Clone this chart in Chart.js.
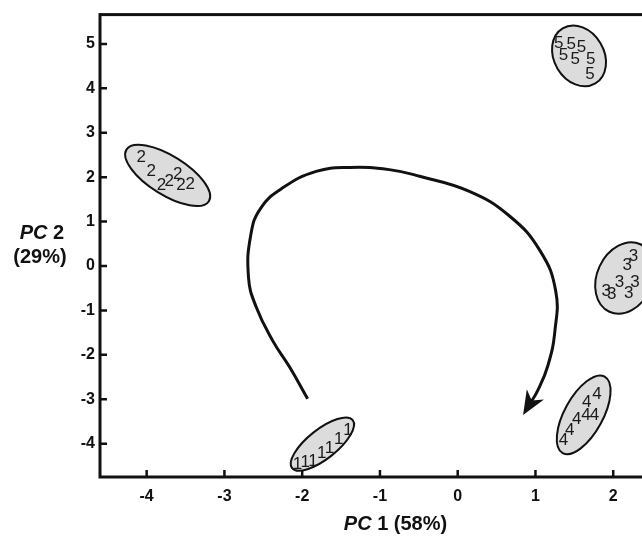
<!DOCTYPE html>
<html><head><meta charset="utf-8">
<script src="https://cdn.jsdelivr.net/npm/chart.js@4/dist/chart.umd.min.js"></script>
<style>
html,body{margin:0;padding:0;overflow:hidden;background:#fff;width:642px;height:536px}
#wrap{width:700px;height:536px}
</style></head>
<body><div id="wrap"><canvas id="c" width="700" height="536"></canvas></div>
<script>
// ---- data ----
const xTicks = [-4, -3, -2, -1, 0, 1, 2];
const yTicks = [-4, -3, -2, -1, 0, 1, 2, 3, 4, 5];
const groupLabels = ['1', '2', '3', '4', '5'];
const group1X = [-2.06, -1.96, -1.86, -1.75, -1.65, -1.53, -1.41];
const group1Y = [-4.46, -4.43, -4.39, -4.22, -4.11, -3.91, -3.70];
const group2X = [-4.07, -3.94, -3.81, -3.71, -3.60, -3.56, -3.44];
const group2Y = [2.44, 2.13, 1.82, 1.91, 2.07, 1.82, 1.83];
const group3X = [2.26, 2.18, 2.08, 2.28, 1.91, 1.98, 2.20];
const group3Y = [0.22, 0.02, -0.37, -0.37, -0.58, -0.63, -0.61];
const group4X = [1.79, 1.66, 1.53, 1.65, 1.76, 1.44, 1.36];
const group4Y = [-2.89, -3.07, -3.46, -3.36, -3.35, -3.70, -3.92];
const group5X = [1.30, 1.46, 1.59, 1.36, 1.51, 1.71, 1.70];
const group5Y = [5.01, 4.98, 4.93, 4.75, 4.66, 4.65, 4.31];
// ellipse around each group: centre, end of major axis (data units), minor/major ratio
const ellipseCX = [-1.74, -3.73, 2.15, 1.62, 1.56];
const ellipseCY = [-4.01, 2.04, -0.27, -3.35, 4.73];
const ellipseEndX = [-1.35, -3.20, 2.35, 1.89, 1.77];
const ellipseEndY = [-3.47, 1.46, 0.49, -2.49, 4.11];
const ellipseRatio = [0.38, 0.40, 0.75, 0.44, 0.78];
// trajectory arrow
const pathX = [-1.93, -2.16, -2.38, -2.59, -2.69, -2.66, -2.53, -2.25, -1.82, -1.39, -0.88, -0.49, 0.15, 0.67, 1.06, 1.26, 1.25, 1.16, 1.03, 0.90];
const pathY = [-2.99, -2.28, -1.68, -0.93, -0.26, 0.71, 1.31, 1.76, 2.13, 2.22, 2.17, 2.02, 1.68, 1.12, 0.34, -0.56, -1.46, -2.24, -2.80, -3.18];

const groupsX = [group1X, group2X, group3X, group4X, group5X];
const groupsY = [group1Y, group2Y, group3Y, group4Y, group5Y];

const FONT = '"Liberation Sans", Arial, sans-serif';

const datasets = groupsX.map((xs, g) => ({
  label: groupLabels[g],
  data: xs.map((x, i) => ({x, y: groupsY[g][i]})),
  pointRadius: 0, showLine: false, isGroup: true
}));
datasets.push({
  label: 'path',
  data: pathX.map((x, i) => ({x, y: pathY[i]})),
  showLine: true, tension: 0.45, borderColor: '#111', borderWidth: 3,
  pointRadius: 0, fill: false, isPath: true
});

const deco = {
  id: 'deco',
  beforeDatasetsDraw(chart) {
    const ctx = chart.ctx, xs = chart.scales.x, ys = chart.scales.y;
    ctx.save();
    for (let i = 0; i < ellipseCX.length; i++) {
      const cx = xs.getPixelForValue(ellipseCX[i]), cy = ys.getPixelForValue(ellipseCY[i]);
      const ex = xs.getPixelForValue(ellipseEndX[i]), ey = ys.getPixelForValue(ellipseEndY[i]);
      const a = Math.hypot(ex - cx, ey - cy), ang = Math.atan2(ey - cy, ex - cx);
      ctx.beginPath();
      ctx.ellipse(cx, cy, a, a * ellipseRatio[i], ang, 0, Math.PI * 2);
      ctx.fillStyle = '#dcdcdc';
      ctx.fill();
      ctx.lineWidth = 2;
      ctx.strokeStyle = '#111';
      ctx.stroke();
    }
    ctx.restore();
  },
  afterDatasetsDraw(chart) {
    const ctx = chart.ctx;
    ctx.save();
    ctx.font = '17px ' + FONT;
    ctx.fillStyle = '#1a1a1a';
    ctx.textAlign = 'center';
    ctx.textBaseline = 'middle';
    chart.data.datasets.forEach((ds, di) => {
      if (!ds.isGroup) return;
      chart.getDatasetMeta(di).data.forEach(pt => ctx.fillText(ds.label, pt.x, pt.y));
    });
    // arrow head
    chart.data.datasets.forEach((ds, di) => {
      if (!ds.isPath) return;
      const pts = chart.getDatasetMeta(di).data;
      const p = pts[pts.length - 1];
      let bx = p.cp1x, by = p.cp1y;
      if (bx === undefined || (bx === p.x && by === p.y)) { bx = pts[pts.length - 2].x; by = pts[pts.length - 2].y; }
      const ang = Math.atan2(p.y - by, p.x - bx);
      const L = 24, W = 10;
      const tx = p.x + Math.cos(ang) * 9, ty = p.y + Math.sin(ang) * 9;
      const ux = Math.cos(ang), uy = Math.sin(ang), nx = -uy, ny = ux;
      ctx.beginPath();
      ctx.moveTo(tx, ty);
      ctx.lineTo(tx - ux * L + nx * W, ty - uy * L + ny * W);
      ctx.lineTo(tx - ux * L * 0.7, ty - uy * L * 0.7);
      ctx.lineTo(tx - ux * L - nx * W, ty - uy * L - ny * W);
      ctx.closePath();
      ctx.fillStyle = '#111';
      ctx.fill();
    });
    ctx.restore();
  },
  afterDraw(chart) {
    const ctx = chart.ctx, ca = chart.chartArea, xs = chart.scales.x, ys = chart.scales.y;
    ctx.save();
    ctx.strokeStyle = '#111';
    ctx.lineWidth = 3;
    ctx.strokeRect(ca.left, ca.top, ca.right - ca.left, ca.bottom - ca.top);
    ctx.lineWidth = 2.5;
    ctx.beginPath();
    xTicks.forEach(v => { const px = xs.getPixelForValue(v); ctx.moveTo(px, ca.bottom); ctx.lineTo(px, ca.bottom - 7); });
    yTicks.forEach(v => { const py = ys.getPixelForValue(v); ctx.moveTo(ca.left, py); ctx.lineTo(ca.left + 7, py); });
    ctx.stroke();
    // axis titles with italic "PC"
    ctx.fillStyle = '#111';
    ctx.textBaseline = 'middle';
    ctx.textAlign = 'left';
    function drawMixed(parts, cx, cy) {
      let w = 0;
      parts.forEach(p => { ctx.font = p[1] + ' 20px ' + FONT; w += ctx.measureText(p[0]).width; });
      let x = cx - w / 2;
      parts.forEach(p => { ctx.font = p[1] + ' 20px ' + FONT; ctx.fillText(p[0], x, cy); x += ctx.measureText(p[0]).width; });
    }
    drawMixed([['PC', 'italic bold'], [' 1 (58%)', 'bold']], (ca.left + ca.right) / 2, 524);
    drawMixed([['PC', 'italic bold'], [' 2', 'bold']], 42, 233);
    drawMixed([['(29%)', 'bold']], 40, 257);
    ctx.restore();
  }
};

new Chart(document.getElementById('c'), {
  type: 'scatter',
  data: { datasets },
  options: {
    responsive: false, animation: false,
    layout: { padding: { top: 13, right: 9, left: 0, bottom: 0 } },
    plugins: { legend: { display: false }, tooltip: { enabled: false } },
    scales: {
      x: {
        type: 'linear', min: -4.6, max: 3,
        afterBuildTicks: s => { s.ticks = xTicks.map(v => ({ value: v })); },
        afterFit: s => { s.height = 59; },
        grid: { display: false, drawTicks: false }, border: { display: false },
        ticks: { padding: 10, color: '#111', font: { family: FONT, size: 16, weight: 'bold' }, callback: v => String(v), maxRotation: 0 }
      },
      y: {
        type: 'linear', min: -4.75, max: 5.66,
        afterBuildTicks: s => { s.ticks = yTicks.map(v => ({ value: v })); },
        afterFit: s => { s.width = 100; },
        grid: { display: false, drawTicks: false }, border: { display: false },
        ticks: { padding: 5, color: '#111', font: { family: FONT, size: 16, weight: 'bold' }, callback: v => String(v) }
      }
    }
  },
  plugins: [deco]
});
</script>
</body></html>
